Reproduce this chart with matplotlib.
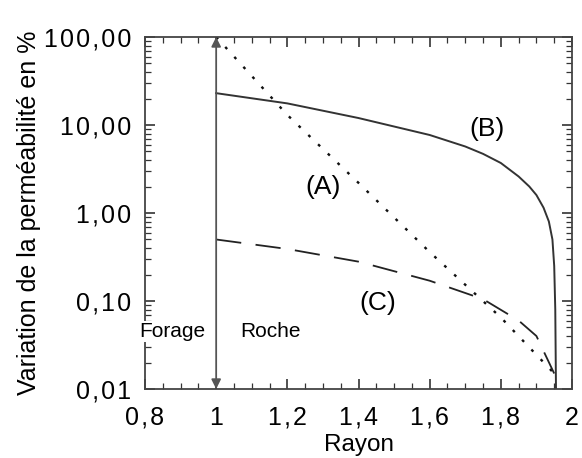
import numpy as np
import matplotlib
matplotlib.use("Agg")
import matplotlib.pyplot as plt
from matplotlib.ticker import FixedLocator, LogLocator, NullFormatter, MultipleLocator

plt.rcParams['font.family'] = ['Liberation Sans', 'DejaVu Sans']

# courbe (A) : pointillés
rayon_a = [1.0, 1.2, 1.4, 1.6, 1.8, 1.95]
perm_a = [100.0, 13.0, 2.2, 0.36, 0.065, 0.015]

# courbe (B) : trait plein
rayon_b = [1.0, 1.2, 1.4, 1.6, 1.7, 1.75, 1.8, 1.85, 1.88, 1.9, 1.92, 1.935,
           1.945, 1.95, 1.953, 1.955]
perm_b = [23.0, 17.6, 12.0, 7.7, 5.7, 4.7, 3.7, 2.6, 2.0, 1.6, 1.15, 0.8,
          0.5, 0.25, 0.08, 0.01]

# courbe (C) : tirets
rayon_c = [1.0, 1.2, 1.4, 1.6, 1.75, 1.85, 1.9, 1.95]
perm_c = [0.5, 0.39, 0.28, 0.17, 0.105, 0.06, 0.04, 0.015]

x_ticks = [0.8, 1.0, 1.2, 1.4, 1.6, 1.8, 2.0]
x_labels = ['0,8', '1', '1,2', '1,4', '1,6', '1,8', '2']
y_ticks = [0.01, 0.1, 1, 10, 100]
y_labels = ['0,01', '0,10', '1,00', '10,00', '100,00']


def espace(s):
    # lettres un peu espacées comme sur l'original
    return '\u200a'.join(s)


fig = plt.figure(figsize=(5.82, 4.58), dpi=100)
ax = fig.add_axes([145 / 582, 1 - 389 / 458, 427 / 582, 352 / 458])

ax.plot(rayon_a, perm_a, color='#111111', lw=1.7, linestyle=(0, (1.2, 4.5)))
ax.plot(rayon_b, perm_b, color='#333333', lw=1.4)
ax.plot(rayon_c, perm_c, color='#222222', lw=1.3, linestyle=(0, (14, 8)))

# fleche double forage / roche
ax.annotate('', xy=(1.0, 100), xytext=(1.0, 0.01),
            arrowprops=dict(arrowstyle='<|-|>', color='#555555', lw=1.3,
                            shrinkA=0, shrinkB=0, mutation_scale=14))

fond = dict(facecolor='white', edgecolor='none', pad=1)
ax.text(0.876, 0.045, 'Forage', fontsize=15, ha='center', va='center',
        bbox=fond, zorder=5, clip_on=False)
ax.text(1.153, 0.045, 'Roche', fontsize=15, ha='center', va='center')
ax.text(1.3, 2.0, '(A)', fontsize=19, ha='center', va='center')
ax.text(1.76, 9.0, '(B)', fontsize=19, ha='center', va='center')
ax.text(1.455, 0.094, '(C)', fontsize=19, ha='center', va='center')

ax.set_yscale('log')
ax.set_xlim(0.8, 2.0)
ax.set_ylim(0.01, 100)

ax.xaxis.set_major_locator(FixedLocator(x_ticks))
ax.set_xticklabels([espace(s) for s in x_labels])
ax.xaxis.set_minor_locator(MultipleLocator(0.05))
ax.yaxis.set_major_locator(FixedLocator(y_ticks))
ax.set_yticklabels([espace(s) for s in y_labels])
ax.yaxis.set_minor_locator(LogLocator(base=10, subs=np.arange(2, 10), numticks=20))
ax.yaxis.set_minor_formatter(NullFormatter())

ax.tick_params(which='both', direction='in', top=True, right=True, labelsize=18, color='#333333')
ax.tick_params(which='major', length=7, width=1.2)
ax.tick_params(axis='x', which='major', pad=12)
ax.tick_params(axis='y', which='major', pad=10)
ax.tick_params(which='minor', length=4, width=0.9)
for s in ax.spines.values():
    s.set_color('#444444')
    s.set_linewidth(1.3)

ax.set_xlabel('Rayon', fontsize=17.5, labelpad=3)
ax.set_ylabel('Variation de la perméabilité en %', fontsize=18, labelpad=2)

fig.savefig('out.png', dpi=100)
